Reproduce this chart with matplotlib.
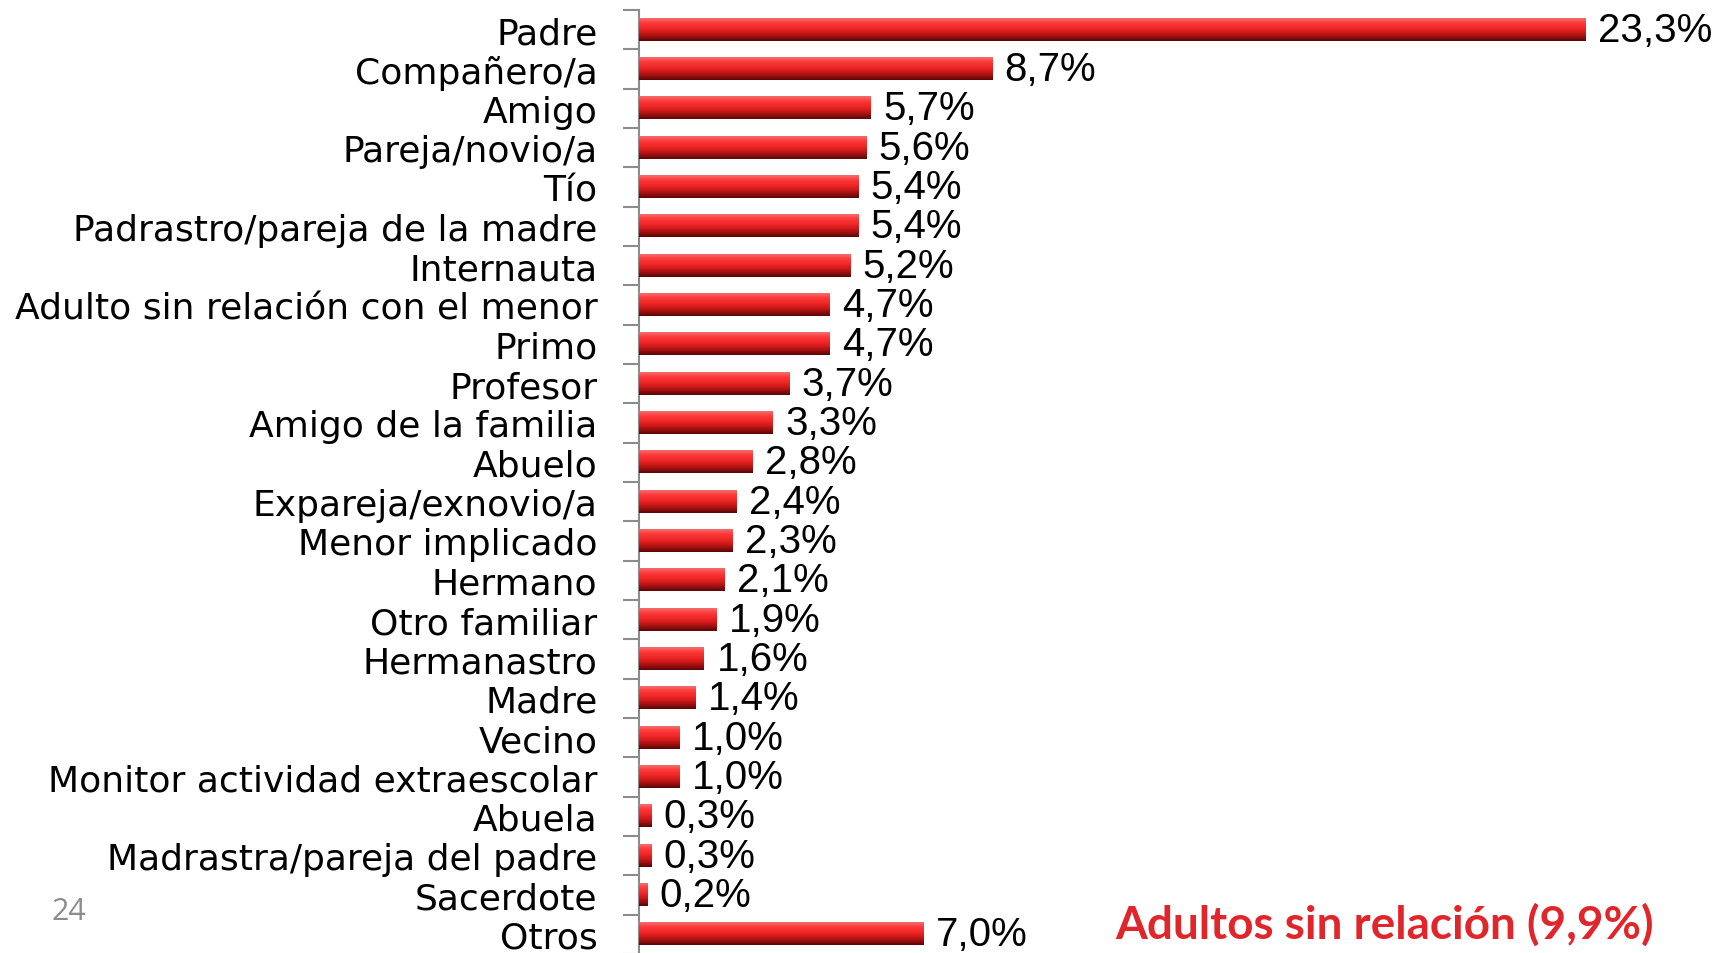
import numpy as np
import matplotlib
matplotlib.use("Agg")
import matplotlib.pyplot as plt
from matplotlib.colors import LinearSegmentedColormap

# datos
categorias = ["Padre", "Compañero/a", "Amigo", "Pareja/novio/a", "Tío",
              "Padrastro/pareja de la madre", "Internauta",
              "Adulto sin relación con el menor", "Primo", "Profesor",
              "Amigo de la familia", "Abuelo", "Expareja/exnovio/a",
              "Menor implicado", "Hermano", "Otro familiar", "Hermanastro",
              "Madre", "Vecino", "Monitor actividad extraescolar", "Abuela",
              "Madrastra/pareja del padre", "Sacerdote", "Otros"]
valores = [23.3, 8.7, 5.7, 5.6, 5.4, 5.4, 5.2, 4.7, 4.7, 3.7, 3.3, 2.8, 2.4,
           2.3, 2.1, 1.9, 1.6, 1.4, 1.0, 1.0, 0.3, 0.3, 0.2, 7.0]
titulo = "Adultos sin relación (9,9%)"
num_pagina = "24"

fig = plt.figure(figsize=(17.19, 9.54), dpi=100)
ax = fig.add_axes([639 / 1719, -1 / 954, 1080 / 1719, 944 / 954])

y = np.arange(len(categorias))
alto = 0.56

# degradado vertical de las barras (arriba claro, abajo oscuro)
cmap = LinearSegmentedColormap.from_list(
    "rojo", ["#f07070", "#ff3a3a", "#f22a2a", "#d81c1c", "#a01010", "#5a0606"])
grad = np.linspace(0, 1, 64).reshape(-1, 1)

barras = ax.barh(y, valores, height=alto, color="#e02020", edgecolor="none")
for b in barras:
    x0, y0 = b.get_x(), b.get_y()
    w, h = b.get_width(), b.get_height()
    ax.imshow(grad, cmap=cmap, aspect="auto", interpolation="bicubic",
              extent=(x0, x0 + w, y0 + h, y0), zorder=3)

for yi, v in zip(y, valores):
    ax.annotate(f"{v:.1f}%".replace(".", ","), xy=(v, yi), xytext=(9, 0),
                textcoords="offset points", va="center", ha="left",
                fontsize=29, family="Liberation Sans", color="black")

ax.set_xlim(0, 26.6)
ax.set_ylim(len(categorias) - 0.5, -0.5)

ax.set_yticks(y)
ax.set_yticklabels(categorias, fontsize=26, family="DejaVu Sans")
ax.set_yticks(np.arange(-0.5, len(categorias)), minor=True)
ax.tick_params(axis="y", which="major", length=0, pad=30)
ax.tick_params(axis="y", which="minor", length=11.5, width=1.5, color="#8c8c8c")
ax.set_xticks([])
for s in ["top", "right", "bottom"]:
    ax.spines[s].set_visible(False)
ax.spines["left"].set_color("#8c8c8c")
ax.spines["left"].set_linewidth(1.5)
ax.patch.set_alpha(0)

fig.text(1385 / 1719, 1 - 925 / 954, titulo, ha="center", va="center",
         fontsize=33, fontweight="bold", color="#e0262a", family="Lato")
fig.text(69 / 1719, 1 - 912 / 954, num_pagina, ha="center", va="center",
         fontsize=22, color="#8c8c8c", family="Open Sans")

fig.savefig("out.png", dpi=100)
